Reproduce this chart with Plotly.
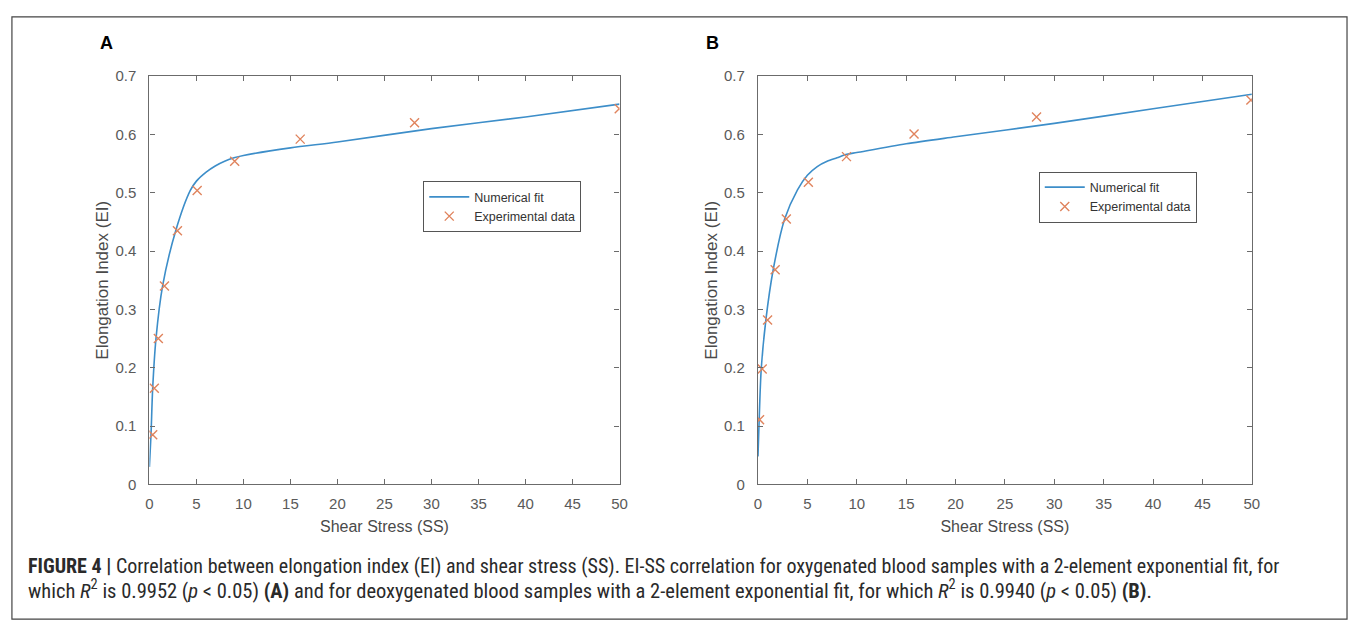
import plotly.graph_objects as go

# ---- data ----
ss_exp_a = [0.35, 0.52, 0.95, 1.6, 2.98, 5.08, 9.07, 16.04, 28.2, 49.97]
ei_exp_a = [0.085, 0.165, 0.25, 0.34, 0.435, 0.504, 0.554, 0.592, 0.620, 0.644]
ss_fit_a = [0, 0.17, 0.35, 0.7, 1.4, 2.8, 4.35, 5, 6, 7, 8, 9, 10, 15, 20, 30, 40, 50]
ei_fit_a = [0.03, 0.085, 0.165, 0.25, 0.34, 0.435, 0.504, 0.52, 0.535, 0.546, 0.554,
            0.560, 0.564, 0.577, 0.587, 0.610, 0.630, 0.652]

ss_exp_b = [0.16, 0.43, 0.97, 1.74, 2.87, 5.1, 8.96, 15.8, 28.2, 49.9]
ei_exp_b = [0.111, 0.198, 0.282, 0.368, 0.455, 0.518, 0.562, 0.601, 0.630, 0.659]
ss_fit_b = [0, 0.1, 0.33, 0.8, 1.54, 2.7, 4, 5, 6, 7, 8, 9, 10, 15, 20, 30, 40, 50]
ei_fit_b = [0.048, 0.1, 0.198, 0.282, 0.368, 0.455, 0.505, 0.53, 0.545, 0.554, 0.56,
            0.566, 0.569, 0.584, 0.596, 0.619, 0.644, 0.669]

x_ticks = [0, 5, 10, 15, 20, 25, 30, 35, 40, 45, 50]
y_ticks = [0, 0.1, 0.2, 0.3, 0.4, 0.5, 0.6, 0.7]
y_ticklabels = ["0", "0.1", "0.2", "0.3", "0.4", "0.5", "0.6", "0.7"]

W, H = 1357, 633
LINE_C = "#3d8ec9"
MARK_C = "#e0845e"
AX_C = "#6b6b6b"
FONT = "Liberation Sans, Arial, sans-serif"

fig = go.Figure()

for i, (sf, ef, se, ee) in enumerate([(ss_fit_a, ei_fit_a, ss_exp_a, ei_exp_a),
                                      (ss_fit_b, ei_fit_b, ss_exp_b, ei_exp_b)]):
    xa = "x" if i == 0 else "x2"
    ya = "y" if i == 0 else "y2"
    lg = "legend" if i == 0 else "legend2"
    fig.add_trace(go.Scatter(x=sf, y=ef, mode="lines", name="Numerical fit",
                             line=dict(color=LINE_C, width=1.6, shape="spline", smoothing=0.8),
                             xaxis=xa, yaxis=ya, legend=lg))
    fig.add_trace(go.Scatter(x=se, y=ee, mode="markers", name="Experimental data",
                             marker=dict(symbol="x-thin", size=9, line=dict(color=MARK_C, width=1.4)),
                             xaxis=xa, yaxis=ya, legend=lg))

ydom = [1 - 488.5 / H, 1 - 69 / H]
doms = [[146.7 / W, 621 / W], [760.7 / W, 1259 / W]]

common_x = dict(range=[0, 50], tickvals=x_ticks, ticks="inside", ticklen=5, tickcolor=AX_C,
                showline=True, linecolor=AX_C, linewidth=1.3, mirror="ticks", showgrid=False,
                zeroline=False, ticklabelstandoff=5,
                tickfont=dict(family=FONT, size=15, color="#5a5a5a"),
                title=dict(text="Shear Stress (SS)", font=dict(family=FONT, size=16, color="#4a4a4a"),
                           standoff=10))
common_y = dict(range=[0, 0.7], tickvals=y_ticks, ticktext=y_ticklabels, ticks="inside", ticklen=5,
                tickcolor=AX_C, showline=True, linecolor=AX_C, linewidth=1.3, mirror="ticks",
                showgrid=False, zeroline=False, ticklabelstandoff=9,
                tickfont=dict(family=FONT, size=15, color="#5a5a5a"),
                title=dict(text="Elongation Index (EI)", font=dict(family=FONT, size=17, color="#4a4a4a"),
                           standoff=2))

leg_common = dict(xanchor="left", yanchor="top", bordercolor="#555555", borderwidth=1,
                  bgcolor="white", font=dict(family=FONT, size=12.5, color="#333333"),
                  tracegroupgap=0, itemwidth=40)

fig.update_layout(
    width=W, height=H, margin=dict(l=0, r=0, t=0, b=0),
    paper_bgcolor="white", plot_bgcolor="white",
    xaxis=dict(domain=doms[0], anchor="y", **common_x),
    yaxis=dict(domain=ydom, anchor="x", **common_y),
    xaxis2=dict(domain=doms[1], anchor="y2", **common_x),
    yaxis2=dict(domain=ydom, anchor="x2", **common_y),
    legend=dict(x=423 / W, y=1 - 177 / H, **leg_common),
    legend2=dict(x=1044 / W, y=1 - 167 / H, **leg_common),
    showlegend=True,
)

# outer frame
fig.add_shape(type="rect", xref="paper", yref="paper",
              x0=8 / W, x1=1355 / W, y0=1 - 627 / H, y1=1 - 8 / H,
              line=dict(color="#444444", width=1.2), fillcolor="rgba(0,0,0,0)", layer="below")

# panel letters
fig.add_annotation(text="<b>A</b>", x=95 / W, y=1 - 35 / H, xref="paper", yref="paper",
                   xanchor="left", yanchor="middle", showarrow=False,
                   font=dict(family=FONT, size=18, color="black"))
fig.add_annotation(text="<b>B</b>", x=706 / W, y=1 - 35 / H, xref="paper", yref="paper",
                   xanchor="left", yanchor="middle", showarrow=False,
                   font=dict(family=FONT, size=18, color="black"))

CAP_FONT = "Liberation Sans Narrow, Roboto Condensed, Arial Narrow, Liberation Sans, sans-serif"
cap1 = ("<b>FIGURE 4 |</b> Correlation between elongation index (EI) and shear stress (SS). "
        "EI-SS correlation for oxygenated blood samples with a 2-element exponential fit, for")
cap2 = ("which <i>R</i><sup>2</sup> is 0.9952 (<i>p</i> &lt; 0.05) <b>(A)</b> and for deoxygenated "
        "blood samples with a 2-element exponential fit, for which <i>R</i><sup>2</sup> is 0.9940 "
        "(<i>p</i> &lt; 0.05) <b>(B)</b>.")
fig.add_annotation(text=cap1, x=22 / W, y=1 - 572 / H, xref="paper", yref="paper",
                   xanchor="left", yanchor="middle", showarrow=False,
                   font=dict(family=CAP_FONT, size=20, color="#2a2a2a"))
fig.add_annotation(text=cap2, x=22 / W, y=1 - 597 / H, xref="paper", yref="paper",
                   xanchor="left", yanchor="middle", showarrow=False,
                   font=dict(family=CAP_FONT, size=20.5, color="#2a2a2a"))

fig.write_html("out.html")
